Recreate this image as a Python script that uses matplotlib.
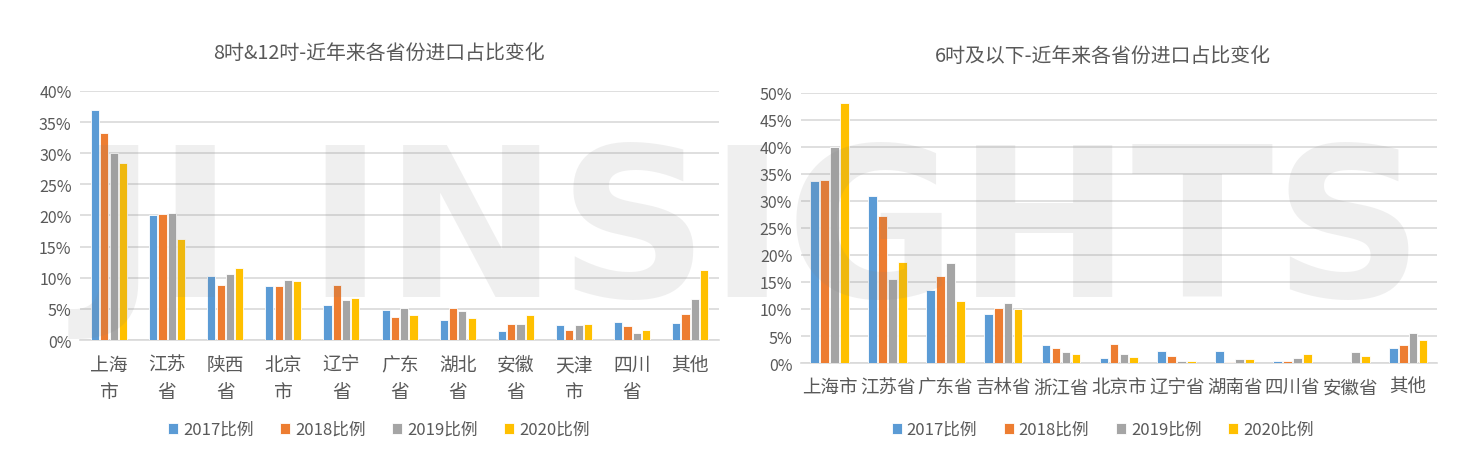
import matplotlib.pyplot as plt
import numpy as np
from matplotlib.ticker import FuncFormatter

plt.rcParams['font.family'] = ['Noto Sans CJK SC', 'DejaVu Sans']

# 8吋&12吋 chart
left_cats = ['上海\n市', '江苏\n省', '陕西\n省', '北京\n市', '辽宁\n省', '广东\n省',
             '湖北\n省', '安徽\n省', '天津\n市', '四川\n省', '其他\n']
left_2017 = [37.0, 20.0, 10.3, 8.7, 5.6, 4.9, 3.2, 1.5, 2.4, 2.9, 2.7]
left_2018 = [33.3, 20.3, 8.9, 8.6, 8.9, 3.7, 5.1, 2.6, 1.6, 2.2, 4.2]
left_2019 = [30.1, 20.4, 10.6, 9.7, 6.4, 5.2, 4.6, 2.6, 2.4, 1.1, 6.6]
left_2020 = [28.5, 16.2, 11.5, 9.4, 6.8, 4.0, 3.6, 4.1, 2.6, 1.6, 11.2]

# 6吋及以下 chart
right_cats = ['上海市', '江苏省', '广东省', '吉林省', '浙江省', '北京市',
              '辽宁省', '湖南省', '四川省', '安徽省', '其他']
right_2017 = [33.7, 30.9, 13.5, 9.1, 3.4, 0.9, 2.2, 2.2, 0.45, 0.0, 2.7]
right_2018 = [33.9, 27.2, 16.2, 10.2, 2.7, 3.6, 1.3, 0.2, 0.45, 0.0, 3.3]
right_2019 = [40.0, 15.6, 18.5, 11.2, 2.0, 1.6, 0.45, 0.75, 1.0, 2.0, 5.6]
right_2020 = [48.1, 18.7, 11.4, 10.0, 1.6, 1.1, 0.4, 0.75, 1.6, 1.3, 4.3]

series_names = ['2017比例', '2018比例', '2019比例', '2020比例']
colors = ['#5B9BD5', '#ED7D31', '#A5A5A5', '#FFC000']
text_color = '#595959'
grid_color = '#D9D9D9'

fig = plt.figure(figsize=(14.8, 4.64), dpi=100)
ax1 = fig.add_axes([0.054, 0.265, 0.432, 0.537])
ax2 = fig.add_axes([0.541, 0.2155, 0.430, 0.582])


def draw(ax, cats, series, ymax, title, title_pos, label_size, label_pad, barw, gap):
    x = np.arange(len(cats))
    n = len(series)
    for i, vals in enumerate(series):
        offs = (i - (n - 1) / 2) * gap
        ax.bar(x + offs, vals, width=barw, color=colors[i], label=series_names[i],
               edgecolor='white', linewidth=0.6, zorder=3)
    ax.set_xlim(-0.5, len(cats) - 0.5)
    ax.set_ylim(0, ymax)
    ax.set_yticks(np.arange(0, ymax + 0.01, 5))
    ax.yaxis.set_major_formatter(FuncFormatter(lambda v, p: '%d%%' % v))
    ax.set_xticks(x)
    ax.set_xticklabels(cats, fontsize=label_size, color=text_color, linespacing=1.35)
    ax.tick_params(axis='y', labelsize=11.5, colors=text_color, length=0, pad=6)
    ax.tick_params(axis='x', length=0, pad=label_pad)
    ax.grid(axis='y', color=grid_color, linewidth=1.2, zorder=0)
    for s in ['top', 'right', 'left']:
        ax.spines[s].set_visible(False)
    ax.spines['bottom'].set_color(grid_color)
    ax.spines['bottom'].set_linewidth(1.2)
    fig.text(title_pos[0], title_pos[1], title, ha='center', va='center',
             fontsize=14.3, color=text_color)
    ax.legend(loc='center', bbox_to_anchor=(title_pos[0], 0.072),
              bbox_transform=fig.transFigure, ncol=4, frameon=False, fontsize=12,
              handlelength=0.6, handleheight=0.6, columnspacing=1.6,
              handletextpad=0.3, labelcolor=text_color)


draw(ax1, left_cats, [left_2017, left_2018, left_2019, left_2020], 40,
     '8吋&12吋-近年来各省份进口占比变化', (0.256, 0.884), 13.5, 10, 0.14, 0.16)
draw(ax2, right_cats, [right_2017, right_2018, right_2019, right_2020], 50,
     '6吋及以下-近年来各省份进口占比变化', (0.745, 0.878), 13.3, 11, 0.15, 0.172)

# light watermark
fig.text(0.508, 0.36, 'JI INSIGHTS', ha='center', va='baseline', fontsize=150,
         fontweight='bold', family='DejaVu Sans', color='#808080', alpha=0.12, zorder=10)

plt.savefig('out.png', dpi=100)
